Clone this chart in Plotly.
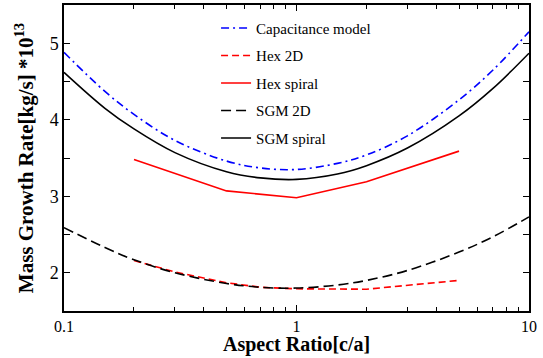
import plotly.graph_objects as go

# Aspect ratio sample points (c/a)
x_curve = [0.1, 0.15, 0.2, 0.3, 0.5, 0.7, 1, 1.5, 2, 3, 5, 7, 10]
cap_model = [4.88, 4.37, 4.07, 3.73, 3.46, 3.37, 3.35, 3.43, 3.54, 3.79, 4.26, 4.65, 5.15]
sgm_spiral = [4.62, 4.15, 3.88, 3.57, 3.32, 3.24, 3.22, 3.29, 3.40, 3.63, 4.05, 4.41, 4.87]
sgm_2d = [2.59, 2.33, 2.17, 2.00, 1.86, 1.81, 1.80, 1.84, 1.90, 2.03, 2.27, 2.47, 2.73]

x_hex2d = [0.2, 0.3, 0.5, 0.7, 1, 2, 5]
hex_2d = [2.16, 2.01, 1.87, 1.81, 1.79, 1.785, 1.90]

x_hexsp = [0.2, 0.5, 1, 2, 5]
hex_spiral = [3.48, 3.07, 2.98, 3.19, 3.59]

x_ticks = [0.1, 1, 10]
x_ticklabels = ["0.1", "1", "10"]
y_ticks = [2, 3, 4, 5]

FONT = '"Liberation Serif", "Times New Roman", serif'

fig = go.Figure()
fig.add_trace(go.Scatter(x=x_curve, y=cap_model, mode="lines", name="Capacitance model",
                         legendgroup="a",
                         line=dict(color="#0000ff", width=1.6, dash="8px,4px,2px,4px", shape="spline")))
fig.add_trace(go.Scatter(x=x_hex2d, y=hex_2d, mode="lines", name="Hex 2D", legendgroup="b",
                         line=dict(color="#ff0000", width=1.6, dash="7px,4px")))
fig.add_trace(go.Scatter(x=x_hexsp, y=hex_spiral, mode="lines", name="Hex spiral", legendgroup="c",
                         line=dict(color="#ff0000", width=1.6)))
fig.add_trace(go.Scatter(x=x_curve, y=sgm_2d, mode="lines", name="SGM 2D", legendgroup="d",
                         line=dict(color="#000000", width=1.6, dash="10px,5px", shape="spline")))
fig.add_trace(go.Scatter(x=x_curve, y=sgm_spiral, mode="lines", name="SGM spiral", legendgroup="e",
                         line=dict(color="#000000", width=1.6, shape="spline")))

fig.update_layout(
    width=543, height=358,
    margin=dict(l=64, r=14, t=3, b=47),
    paper_bgcolor="white", plot_bgcolor="white",
    font=dict(family=FONT, color="black", size=16),
    legend=dict(x=0.327, y=0.978, xanchor="left", yanchor="top",
                bgcolor="rgba(0,0,0,0)", font=dict(family=FONT, size=15),
                traceorder="grouped", tracegroupgap=5),
    xaxis=dict(type="log", range=[-1, 1], tickvals=x_ticks, ticktext=x_ticklabels,
               ticks="inside", ticklen=6, tickcolor="black", showline=True, linecolor="black",
               linewidth=1.5, mirror="ticks", showgrid=False, zeroline=False,
               tickfont=dict(family=FONT, size=16),
               minor=dict(ticks="inside", ticklen=4, tickcolor="black",
                          tickvals=[0.2, 0.3, 0.4, 0.5, 0.6, 0.7, 0.8, 0.9, 2, 3, 4, 5, 6, 7, 8, 9])),
    yaxis=dict(range=[1.5, 5.5], tickvals=y_ticks, ticks="inside", ticklen=6, tickcolor="black",
               showline=True, linecolor="black", linewidth=1.5, mirror="ticks",
               showgrid=False, zeroline=False, tickfont=dict(family=FONT, size=18),
               minor=dict(ticks="inside", ticklen=6, tickcolor="black", dtick=0.5),
               title=dict(text="<b>Mass Growth Rate[kg/s] *10<sup>13</sup></b>",
                          font=dict(family=FONT, size=21), standoff=10)),
    annotations=[dict(text="<b>Aspect Ratio[c/a]</b>", xref="paper", yref="paper",
                      x=0.5, y=-0.108, xanchor="center", yanchor="middle", showarrow=False,
                      font=dict(family=FONT, size=20))],
)

fig.write_html("out.html")
